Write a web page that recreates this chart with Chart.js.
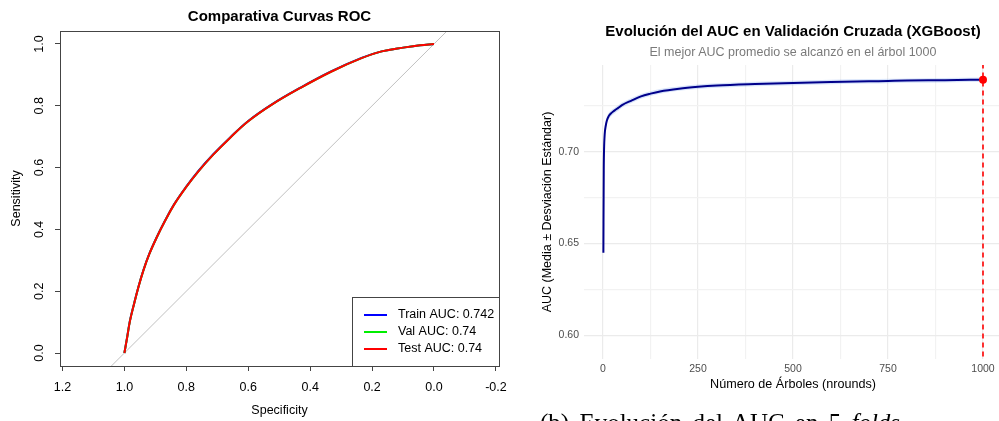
<!DOCTYPE html>
<html>
<head>
<meta charset="utf-8">
<script src="https://cdn.jsdelivr.net/npm/chart.js@4.4.0/dist/chart.umd.min.js"></script>
<style>
html, body { margin: 0; padding: 0; background: #fff; overflow: hidden; width: 999px; height: 421px; }
canvas { position: absolute; top: 0; }
#roc { left: 0; }
#cv { left: 505px; }
.txt { position: absolute; font-family: "Liberation Sans", Arial, sans-serif; white-space: nowrap; text-align: center; }
#t1 { left: 129.5px; width: 300px; top: 8px; line-height: 16px; font-size: 15px; font-weight: bold; color: #000; }
#t2 { left: 593px; width: 400px; top: 22px; line-height: 18px; font-size: 15px; font-weight: bold; color: #000; }
#t3 { left: 593px; width: 400px; top: 45px; line-height: 14px; font-size: 12.5px; color: #7a7a7a; }
#cap { position: absolute; left: 540px; top: 410px; font-family: "Liberation Serif", "DejaVu Serif", serif; font-size: 25px; line-height: 25px; word-spacing: 4px; white-space: nowrap; color: #000; }
</style>
</head>
<body>
<canvas id="roc" width="520" height="421"></canvas>
<canvas id="cv" width="505" height="421"></canvas>
<div class="txt" id="t1">Comparativa Curvas ROC</div>
<div class="txt" id="t2">Evolución del AUC en Validación Cruzada (XGBoost)</div>
<div class="txt" id="t3">El mejor AUC promedio se alcanzó en el árbol 1000</div>
<div id="cap">(b) Evolución del AUC en 5 <i>folds</i></div>
<script>
// ---- left chart: ROC curves (specificity, sensitivity)
const rocSpec = [1.0, 0.991, 0.982, 0.969, 0.955, 0.939, 0.920, 0.896, 0.869, 0.839, 0.802, 0.761, 0.713, 0.659, 0.600, 0.525, 0.433, 0.331, 0.234, 0.169, 0.094, 0.045, 0.0];
const trainSens = [0.0, 0.052, 0.105, 0.159, 0.213, 0.267, 0.320, 0.374, 0.428, 0.482, 0.536, 0.589, 0.643, 0.697, 0.751, 0.804, 0.858, 0.912, 0.955, 0.976, 0.989, 0.996, 1.0];
const valSens = [0.0, 0.051, 0.104, 0.158, 0.212, 0.266, 0.319, 0.373, 0.427, 0.481, 0.535, 0.588, 0.642, 0.696, 0.750, 0.803, 0.857, 0.911, 0.954, 0.976, 0.989, 0.996, 1.0];
const testSens = [0.0, 0.051, 0.104, 0.158, 0.212, 0.266, 0.319, 0.373, 0.427, 0.481, 0.535, 0.588, 0.642, 0.696, 0.750, 0.803, 0.857, 0.911, 0.954, 0.976, 0.989, 0.996, 1.0];
const rocLabels = ["Train AUC: 0.742", "Val AUC: 0.74", "Test AUC: 0.74"];
const rocColors = ["#0000ff", "#00ee00", "#ff0000"];
const specTicks = [1.2, 1.0, 0.8, 0.6, 0.4, 0.2, 0.0, -0.2];
const sensTicks = [0.0, 0.2, 0.4, 0.6, 0.8, 1.0];
const chanceLine = [[1.5, -0.5], [-0.5, 1.5]];

// ---- right chart: CV AUC by number of trees
const trees = [1, 2, 3, 4, 5, 7, 10, 15, 20, 30, 40, 50, 75, 100, 125, 150, 200, 250, 300, 400, 500, 600, 700, 750, 800, 900, 1000];
const aucMean = [0.645, 0.690, 0.703, 0.708, 0.711, 0.714, 0.717, 0.7195, 0.7208, 0.7225, 0.724, 0.7255, 0.728, 0.7303, 0.7318, 0.733, 0.7345, 0.7355, 0.7362, 0.737, 0.7376, 0.7381, 0.7385, 0.7387, 0.7389, 0.7391, 0.7394];
const aucSd = [0.003, 0.0025, 0.0022, 0.002, 0.002, 0.0019, 0.0018, 0.0017, 0.0016, 0.0015, 0.0015, 0.0014, 0.0014, 0.0013, 0.0013, 0.0013, 0.0012, 0.0012, 0.0012, 0.0012, 0.0012, 0.0012, 0.0012, 0.0012, 0.0012, 0.0012, 0.0012];
const bestTree = 1000;
const treeTicks = [0, 125, 250, 375, 500, 625, 750, 875, 1000];
const treeLabels = [0, 250, 500, 750, 1000];
const aucTicks = [0.6, 0.625, 0.65, 0.675, 0.7, 0.725];
const aucLabels = [0.6, 0.65, 0.7];

const sans = '"Liberation Sans", Arial, sans-serif';

const pts = (xs, ys) => xs.map((x, i) => ({ x: x, y: ys[i] }));

// R-style box + bottomright legend
const rocBox = {
  id: 'rocBox',
  afterDraw(chart) {
    const { ctx, chartArea: a } = chart;
    ctx.save();
    ctx.strokeStyle = '#444';
    ctx.lineWidth = 1;
    ctx.strokeRect(Math.round(a.left) + 0.5, Math.round(a.top) + 0.5, Math.round(a.right - a.left), Math.round(a.bottom - a.top));
    // legend
    const w = 147, h = 69;
    const lx = Math.round(a.right - w), ly = Math.round(a.bottom - h);
    ctx.fillStyle = '#fff';
    ctx.fillRect(lx, ly, w, h);
    ctx.strokeRect(lx + 0.5, ly + 0.5, w, h);
    ctx.font = '12.5px ' + sans;
    ctx.textBaseline = 'middle';
    ctx.textAlign = 'left';
    rocLabels.forEach((lab, i) => {
      const yy = ly + 18 + i * 17;
      ctx.strokeStyle = rocColors[i];
      ctx.lineWidth = 2;
      ctx.beginPath();
      ctx.moveTo(lx + 12, yy);
      ctx.lineTo(lx + 35, yy);
      ctx.stroke();
      ctx.fillStyle = '#000';
      ctx.fillText(lab, lx + 46, yy);
    });
    ctx.restore();
  }
};

new Chart(document.getElementById('roc'), {
  type: 'line',
  data: {
    datasets: [
      { data: pts(chanceLine.map(p => p[0]), chanceLine.map(p => p[1])), borderColor: '#c0c0c0', borderWidth: 1, pointRadius: 0, order: 4 },
      { data: pts(rocSpec, trainSens), borderColor: rocColors[0], borderWidth: 2, pointRadius: 0, tension: 0.4, order: 2 },
      { data: pts(rocSpec, valSens), borderColor: rocColors[1], borderWidth: 2, pointRadius: 0, tension: 0.4, order: 1 },
      { data: pts(rocSpec, testSens), borderColor: rocColors[2], borderWidth: 2, pointRadius: 0, tension: 0.4, order: 0 }
    ]
  },
  options: {
    responsive: false,
    animation: false,
    devicePixelRatio: 1,
    events: [],
    layout: { padding: { top: 31, right: 21, bottom: 0, left: 0 } },
    plugins: { legend: { display: false }, tooltip: { enabled: false } },
    scales: {
      x: {
        type: 'linear', reverse: true, min: -0.21, max: 1.208,
        afterBuildTicks: s => { s.ticks = specTicks.map(v => ({ value: v })); },
        afterFit: s => { s.height = 55; },
        ticks: { callback: v => v.toFixed(1), color: '#000', font: { family: sans, size: 12.5 }, padding: 9, maxRotation: 0, autoSkip: false },
        grid: { drawOnChartArea: false, drawTicks: true, tickLength: 5, color: '#444', lineWidth: 1 },
        border: { display: false },
        title: { display: true, text: 'Specificity', color: '#000', font: { family: sans, size: 12.5 }, padding: { top: 0, bottom: 2.5 } }
      },
      y: {
        type: 'linear', min: -0.042, max: 1.042,
        afterBuildTicks: s => { s.ticks = sensTicks.map(v => ({ value: v })); },
        afterFit: s => { s.width = 60; },
        ticks: { callback: v => v.toFixed(1), color: '#000', font: { family: sans, size: 12.5 }, minRotation: 90, maxRotation: 90, crossAlign: 'center', padding: 7, autoSkip: false },
        grid: { drawOnChartArea: false, drawTicks: true, tickLength: 5, color: '#444', lineWidth: 1 },
        border: { display: false },
        title: { display: true, text: 'Sensitivity', color: '#000', font: { family: sans, size: 12.5 }, padding: { top: 9, bottom: 0 } }
      }
    }
  },
  plugins: [rocBox]
});

const isMajor = (v, list) => list.some(m => Math.abs(m - v) < 1e-9);

new Chart(document.getElementById('cv'), {
  type: 'line',
  data: {
    datasets: [
      { data: pts(trees, aucMean.map((m, i) => m - aucSd[i])), borderWidth: 0, pointRadius: 0, fill: false, cubicInterpolationMode: 'monotone', order: 4 },
      { data: pts(trees, aucMean.map((m, i) => m + aucSd[i])), borderWidth: 0, pointRadius: 0, fill: '-1', backgroundColor: 'rgba(100,149,237,0.25)', cubicInterpolationMode: 'monotone', order: 3 },
      { data: pts(trees, aucMean), borderColor: '#00008b', borderWidth: 2, pointRadius: 0, fill: false, cubicInterpolationMode: 'monotone', order: 2 },
      { data: [{ x: bestTree, y: 0.5 }, { x: bestTree, y: 0.8 }], borderColor: '#ff0000', borderWidth: 1.6, borderDash: [5, 4], pointRadius: 0, fill: false, order: 1 },
      { data: [{ x: bestTree, y: aucMean[trees.indexOf(bestTree)] }], showLine: false, pointRadius: 4, pointBackgroundColor: '#ff0000', pointBorderWidth: 0, order: 0 }
    ]
  },
  options: {
    responsive: false,
    animation: false,
    devicePixelRatio: 1,
    events: [],
    layout: { padding: { top: 65, right: 8, bottom: 0, left: 0 } },
    plugins: { legend: { display: false }, tooltip: { enabled: false } },
    scales: {
      x: {
        type: 'linear', min: -50, max: 1050,
        afterBuildTicks: s => { s.ticks = treeTicks.map(v => ({ value: v })); },
        afterFit: s => { s.height = 62; },
        ticks: { callback: v => isMajor(v, treeLabels) ? String(v) : '', color: '#4d4d4d', font: { family: sans, size: 10.5 }, padding: 4, maxRotation: 0, autoSkip: false },
        grid: { drawTicks: false, color: c => isMajor(c.tick.value, treeLabels) ? '#ebebeb' : '#f2f2f2', lineWidth: 1.2 },
        border: { display: false },
        title: { display: true, text: 'Número de Árboles (nrounds)', color: '#000', font: { family: sans, size: 12.6 }, padding: { top: 0, bottom: 29 } }
      },
      y: {
        type: 'linear', min: 0.587, max: 0.7474,
        afterBuildTicks: s => { s.ticks = aucTicks.map(v => ({ value: v })); },
        afterFit: s => { s.width = 79; },
        ticks: { callback: v => isMajor(v, aucLabels) ? v.toFixed(2) : '', color: '#4d4d4d', font: { family: sans, size: 10.5 }, padding: 5, autoSkip: false },
        grid: { drawTicks: false, color: c => isMajor(c.tick.value, aucLabels) ? '#ebebeb' : '#f2f2f2', lineWidth: 1.2 },
        border: { display: false },
        title: { display: true, text: 'AUC (Media ± Desviación Estándar)', color: '#000', font: { family: sans, size: 12.5 }, padding: { top: 35.5, bottom: 0 } }
      }
    }
  }
});
</script>
</body>
</html>
